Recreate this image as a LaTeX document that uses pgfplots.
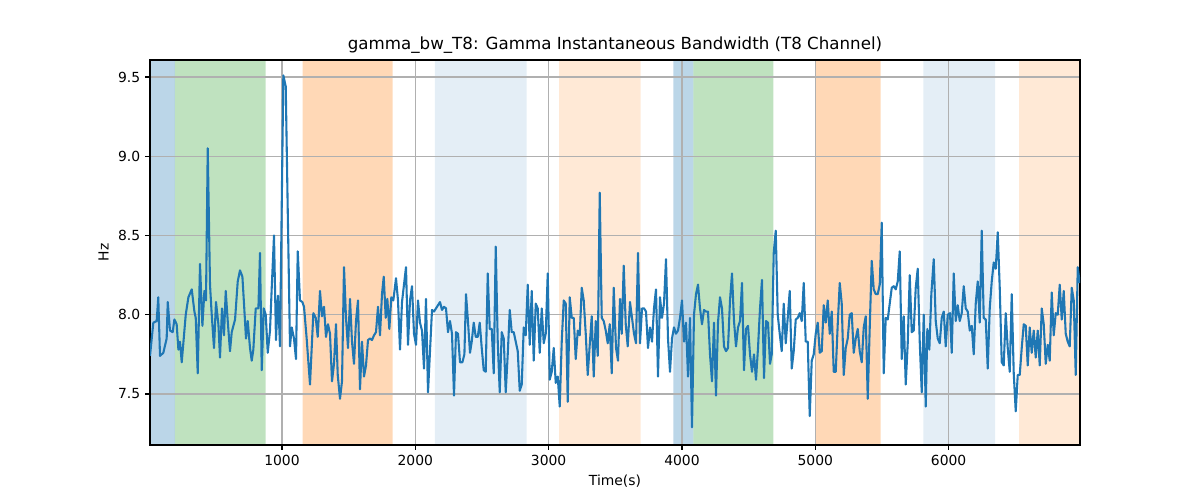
\documentclass[border=0pt]{standalone}
\usepackage{fontspec}
\setmainfont{DejaVu Sans}
\usepackage{pgfplots}
\pgfplotsset{compat=1.18}
\definecolor{tabblue}{RGB}{31,119,180}
\definecolor{taborange}{RGB}{255,127,14}
\definecolor{tabgreen}{RGB}{44,160,44}
\definecolor{gridgray}{RGB}{176,176,176}
\begin{document}
\begin{tikzpicture}
\begin{axis}[
  set layers=standard,
  scale only axis,
  width=669.6pt, height=277.2pt,
  xmin=10, xmax=6985, ymin=7.178, ymax=9.607,
  xtick={1000,2000,3000,4000,5000,6000},
  ytick={7.5,8.0,8.5,9.0,9.5},
  yticklabel style={/pgf/number format/.cd,fixed,fixed zerofill,precision=1},
  /pgf/number format/assume math mode=true,
  scaled x ticks=false,
  xticklabel style={/pgf/number format/1000 sep={}},
  tick label style={font=\fontsize{10}{12}\selectfont},
  label style={font=\fontsize{10}{12}\selectfont},
  title style={font=\fontsize{12}{14}\selectfont, yshift=-5pt},
  title={gamma\_bw\_T8: Gamma Instantaneous Bandwidth (T8 Channel)},
  xlabel={Time(s)}, ylabel={Hz},
  xmajorgrids, ymajorgrids,
  major grid style={color=gridgray, line width=0.8pt},
  axis line style={line width=0.8pt},
  tick align=outside, major tick length=3.5pt,
  tick style={black, line width=0.8pt},
  xtick pos=bottom, ytick pos=left,
  clip=true,
]
% shaded spans
\addplot[on layer=axis background, fill=tabblue, fill opacity=0.3, draw=none] coordinates {(10,7.178) (197,7.178) (197,9.607) (10,9.607)} \closedcycle;
\addplot[on layer=axis background, fill=tabgreen, fill opacity=0.3, draw=none] coordinates {(197,7.178) (877,7.178) (877,9.607) (197,9.607)} \closedcycle;
\addplot[on layer=axis background, fill=taborange, fill opacity=0.3, draw=none] coordinates {(1155,7.178) (1830,7.178) (1830,9.607) (1155,9.607)} \closedcycle;
\addplot[on layer=axis background, fill=tabblue, fill opacity=0.12, draw=none] coordinates {(2147,7.178) (2835,7.178) (2835,9.607) (2147,9.607)} \closedcycle;
\addplot[on layer=axis background, fill=taborange, fill opacity=0.17, draw=none] coordinates {(3078,7.178) (3690,7.178) (3690,9.607) (3078,9.607)} \closedcycle;
\addplot[on layer=axis background, fill=tabblue, fill opacity=0.3, draw=none] coordinates {(3935,7.178) (4085,7.178) (4085,9.607) (3935,9.607)} \closedcycle;
\addplot[on layer=axis background, fill=tabgreen, fill opacity=0.3, draw=none] coordinates {(4085,7.178) (4685,7.178) (4685,9.607) (4085,9.607)} \closedcycle;
\addplot[on layer=axis background, fill=taborange, fill opacity=0.3, draw=none] coordinates {(4998,7.178) (5490,7.178) (5490,9.607) (4998,9.607)} \closedcycle;
\addplot[on layer=axis background, fill=tabblue, fill opacity=0.12, draw=none] coordinates {(5810,7.178) (6348,7.178) (6348,9.607) (5810,9.607)} \closedcycle;
\addplot[on layer=axis background, fill=taborange, fill opacity=0.17, draw=none] coordinates {(6528,7.178) (6985,7.178) (6985,9.607) (6528,9.607)} \closedcycle;
% signal
\addplot[tabblue, line width=1.5pt, line join=round, mark=none] coordinates {
(10,7.74) (35,7.95) (60,7.96) (72,8.11) (85,7.74) (110,7.76) (135,7.85) (143,8.08) (160,7.90) (180,7.89)
(193,7.97) (210,7.94) (223,7.78) (235,7.83) (248,7.70) (278,8.00) (298,8.11) (323,8.16) (343,8.02) (353,7.98)
(368,7.63) (385,8.32) (403,7.93) (418,8.15) (430,8.09) (443,9.05) (460,8.19) (473,8.00) (490,7.79) (505,8.08)
(523,7.94) (535,7.73) (550,8.04) (565,7.87) (578,8.15) (593,7.96) (610,7.77) (623,7.89) (648,7.97) (668,8.21)
(685,8.28) (703,8.24) (715,8.07) (730,7.85) (743,7.96) (760,7.79) (773,7.71) (785,7.78) (803,8.04) (823,8.04)
(835,8.39) (848,7.65) (863,8.04) (878,8.00) (893,7.76) (910,7.90) (923,8.17) (940,8.50) (955,7.84) (970,8.12)
(985,7.80) (1010,9.51) (1028,9.44) (1043,8.66) (1060,7.80) (1073,7.92) (1090,7.85) (1105,7.72) (1118,8.40) (1135,8.09)
(1153,8.08) (1165,8.05) (1185,7.85) (1210,7.56) (1235,8.01) (1253,7.98) (1268,7.86) (1285,8.15) (1300,7.99) (1315,8.05)
(1330,7.86) (1345,7.94) (1360,7.88) (1375,7.58) (1390,7.69) (1405,7.94) (1418,7.62) (1435,7.47) (1450,7.58) (1465,8.30)
(1480,7.98) (1495,7.79) (1510,8.10) (1525,7.83) (1540,7.69) (1555,7.96) (1570,8.09) (1585,7.53) (1600,7.83) (1615,7.61)
(1630,7.68) (1645,7.84) (1660,7.85) (1675,7.84) (1690,7.87) (1705,7.89) (1720,8.05) (1735,7.87) (1750,8.13) (1763,8.24)
(1778,7.98) (1790,8.10) (1805,7.91) (1820,8.11) (1835,8.09) (1855,8.23) (1870,8.09) (1885,7.78) (1900,8.08) (1915,8.19)
(1930,8.30) (1945,7.81) (1960,8.09) (1975,8.18) (1990,7.88) (2005,7.81) (2020,8.09) (2035,7.95) (2050,7.90) (2065,7.66)
(2080,8.10) (2095,7.51) (2110,7.77) (2125,8.03) (2140,8.02) (2155,8.04) (2170,8.06) (2185,8.08) (2200,8.03) (2215,8.05)
(2230,8.04) (2245,7.89) (2260,7.96) (2275,7.88) (2290,7.49) (2305,7.89) (2320,7.88) (2335,7.70) (2353,7.70) (2368,7.75)
(2380,8.13) (2393,7.98) (2410,7.76) (2423,7.83) (2438,7.95) (2453,7.86) (2468,7.86) (2483,7.95) (2498,7.79) (2513,7.65)
(2528,7.64) (2543,8.26) (2558,7.91) (2573,7.91) (2588,7.63) (2603,8.43) (2618,7.83) (2633,7.51) (2648,7.89) (2663,7.85)
(2678,7.51) (2693,7.75) (2708,8.03) (2723,7.89) (2738,7.89) (2753,7.83) (2768,7.77) (2783,7.52) (2798,7.56) (2813,7.92)
(2828,7.87) (2843,8.19) (2858,7.81) (2873,8.15) (2888,7.71) (2903,8.07) (2918,8.04) (2933,7.76) (2948,8.04) (2963,7.82)
(2978,7.88) (2993,8.26) (3008,7.59) (3023,7.64) (3038,7.79) (3053,7.57) (3068,7.61) (3083,7.42) (3098,7.83) (3113,8.09)
(3128,8.07) (3143,7.45) (3158,8.11) (3173,7.98) (3188,7.98) (3203,7.72) (3218,7.90) (3233,7.87) (3248,8.17) (3263,8.09)
(3278,7.88) (3293,7.62) (3308,7.81) (3323,7.99) (3338,7.61) (3353,7.96) (3368,7.74) (3383,8.77) (3398,7.98) (3413,7.96)
(3428,7.90) (3443,7.82) (3458,7.94) (3473,7.63) (3488,8.17) (3505,7.79) (3520,7.71) (3535,8.10) (3548,7.88) (3563,8.31)
(3578,7.94) (3593,7.80) (3610,8.08) (3625,7.98) (3640,7.88) (3655,7.82) (3670,8.39) (3685,7.82) (3700,8.04) (3715,8.04)
(3730,8.02) (3745,7.79) (3760,7.92) (3775,7.83) (3790,8.04) (3805,8.16) (3820,7.61) (3835,8.11) (3850,7.98) (3865,8.07)
(3880,8.35) (3895,7.85) (3910,7.64) (3925,7.85) (3940,7.92) (3955,7.88) (3970,7.90) (3985,7.98) (4000,8.09) (4015,7.83)
(4030,7.95) (4045,7.61) (4060,7.98) (4075,7.29) (4090,8.00) (4105,8.13) (4120,8.19) (4135,8.04) (4150,7.94) (4165,8.03)
(4180,8.02) (4195,8.02) (4210,7.75) (4225,7.58) (4240,7.95) (4255,7.49) (4270,7.95) (4285,8.11) (4300,8.04) (4315,7.80)
(4330,7.77) (4345,7.79) (4360,8.09) (4375,8.26) (4390,7.96) (4405,7.80) (4420,7.92) (4435,7.96) (4450,8.20) (4465,7.65)
(4480,7.91) (4495,7.93) (4510,7.75) (4525,7.64) (4540,7.75) (4555,7.59) (4570,7.79) (4585,8.04) (4600,8.22) (4615,7.60)
(4630,7.96) (4645,7.95) (4660,7.69) (4673,7.75) (4688,8.39) (4703,8.53) (4718,8.00) (4733,7.88) (4748,7.77) (4763,8.07)
(4778,7.82) (4793,7.98) (4808,8.15) (4823,7.66) (4838,7.77) (4853,7.97) (4868,7.98) (4883,8.01) (4898,7.96) (4913,8.20)
(4928,7.83) (4943,7.83) (4958,7.36) (4973,7.71) (4988,7.75) (5003,7.88) (5018,7.95) (5033,7.76) (5048,7.77) (5063,8.06)
(5078,7.95) (5093,8.09) (5108,7.88) (5123,8.02) (5138,7.64) (5153,7.64) (5168,7.94) (5183,8.20) (5198,8.07) (5213,7.62)
(5228,7.79) (5243,7.85) (5258,8.00) (5273,8.01) (5288,7.76) (5303,7.85) (5318,7.91) (5333,7.77) (5348,7.70) (5363,7.92)
(5378,7.99) (5393,7.47) (5408,7.92) (5423,8.34) (5438,8.16) (5453,8.13) (5468,8.13) (5483,8.19) (5498,8.58) (5513,7.63)
(5528,7.98) (5543,7.97) (5558,8.07) (5573,8.17) (5588,8.18) (5603,8.16) (5618,8.21) (5633,8.40) (5648,7.72) (5663,7.99)
(5678,7.56) (5693,7.82) (5708,8.25) (5723,7.89) (5738,7.90) (5753,8.17) (5768,8.29) (5783,7.83) (5798,7.51) (5813,8.00)
(5828,7.42) (5840,7.91) (5855,7.78) (5870,8.13) (5888,8.35) (5903,7.96) (5918,7.85) (5933,7.82) (5948,7.98) (5963,8.02)
(5978,7.80) (5993,8.00) (6010,8.01) (6023,7.76) (6038,8.26) (6053,7.96) (6068,8.06) (6083,7.96) (6098,8.01) (6113,8.18)
(6128,8.04) (6143,8.02) (6158,7.90) (6173,7.93) (6188,7.75) (6203,8.07) (6218,8.21) (6233,7.95) (6248,8.53) (6263,7.98)
(6278,7.97) (6293,7.66) (6308,8.04) (6323,8.21) (6338,8.33) (6353,8.29) (6368,8.52) (6383,8.17) (6398,7.70) (6413,7.68)
(6428,8.01) (6443,7.79) (6458,7.64) (6473,8.13) (6488,7.63) (6503,7.39) (6518,7.62) (6533,7.62) (6548,7.79) (6563,7.94)
(6578,7.93) (6593,7.68) (6608,7.92) (6623,7.76) (6638,7.90) (6653,7.73) (6668,7.90) (6683,7.68) (6698,8.04) (6713,7.94)
(6728,7.69) (6743,7.81) (6758,7.71) (6773,8.14) (6788,7.87) (6803,8.01) (6818,8.00) (6833,8.19) (6848,7.97) (6863,8.15)
(6878,7.88) (6893,7.83) (6908,7.80) (6923,8.17) (6938,8.09) (6953,7.62) (6968,8.30) (6983,8.20)
};
\end{axis}
\path (-108pt,-39.6pt) rectangle (756pt,320.4pt);
\end{tikzpicture}
\end{document}
